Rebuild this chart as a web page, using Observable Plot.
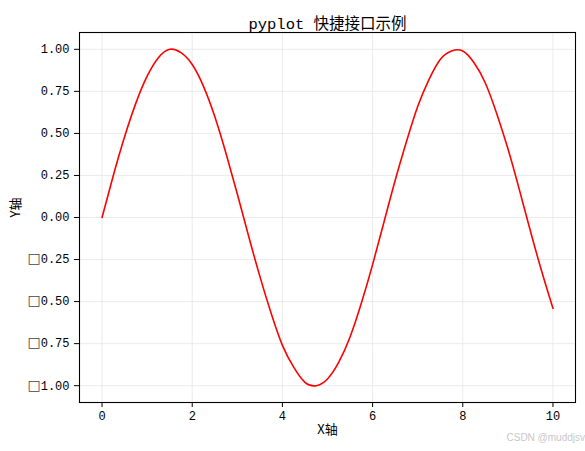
<!DOCTYPE html>
<html>
<head>
<meta charset="utf-8">
<script src="https://cdn.jsdelivr.net/npm/d3@7"></script>
<script src="https://cdn.jsdelivr.net/npm/@observablehq/plot@0.6"></script>
<style>
  html, body { margin: 0; padding: 0; background: #fff; }
  #chart { position: relative; width: 585px; height: 451px; }
  #wm { position: absolute; right: 0; top: 432px; font: 10px "Liberation Sans", Arial, sans-serif; color: #c8c8c8; white-space: nowrap; }
</style>
</head>
<body>
<div id="chart"><div id="wm">CSDN @muddjsv</div></div>
<script>
const title = "pyplot 快捷接口示例";
const xLabel = "X轴";
const yLabel = "Y轴";
const xValues = [0, 0.25, 0.5, 0.75, 1, 1.25, 1.5, 1.75, 2, 2.25, 2.5, 2.75, 3, 3.25, 3.5, 3.75, 4, 4.25, 4.5, 4.75, 5, 5.25, 5.5, 5.75, 6, 6.25, 6.5, 6.75, 7, 7.25, 7.5, 7.75, 8, 8.25, 8.5, 8.75, 9, 9.25, 9.5, 9.75, 10];
const yValues = [0.00, 0.25, 0.48, 0.68, 0.84, 0.95, 1.00, 0.98, 0.91, 0.78, 0.60, 0.38, 0.14, -0.11, -0.35, -0.57, -0.76, -0.89, -0.98, -1.00, -0.96, -0.86, -0.71, -0.51, -0.28, -0.03, 0.22, 0.45, 0.66, 0.82, 0.94, 0.99, 0.99, 0.92, 0.80, 0.62, 0.41, 0.17, -0.08, -0.32, -0.54];
const xTicks = [0, 2, 4, 6, 8, 10];
const yTicks = [-1, -0.75, -0.5, -0.25, 0, 0.25, 0.5, 0.75, 1];

const data = xValues.map((x, i) => ({x, y: yValues[i]}));
const font = '"Liberation Mono", "Noto Sans CJK SC", monospace';
const cjk = '"Noto Sans CJK SC", sans-serif';

const chart = Plot.plot({
  width: 585,
  height: 451,
  marginLeft: 79,
  marginRight: 10,
  marginTop: 32,
  marginBottom: 49,
  style: {fontFamily: font, fontSize: "12px", background: "#fff", color: "#000"},
  x: {domain: [-0.5, 10.5], ticks: xTicks},
  y: {domain: [-1.1, 1.1], ticks: yTicks},
  marks: [
    Plot.gridX(xTicks, {stroke: "#e6e6e6", strokeOpacity: 1, strokeWidth: 0.8}),
    Plot.gridY(yTicks, {stroke: "#e6e6e6", strokeOpacity: 1, strokeWidth: 0.8}),
    Plot.line(data, {x: "x", y: "y", stroke: "#ff0000", strokeWidth: 1.6, curve: "natural"}),
    Plot.frame({stroke: "#000", strokeWidth: 1.1}),
    Plot.axisX(xTicks, {tickSize: 5, tickPadding: 4, label: null, fontSize: 12, tickFormat: d => String(d)}),
    Plot.axisY(yTicks, {tickSize: 5, tickPadding: 5, label: null, fontSize: 12,
      tickFormat: d => d3.format(".2f")(d).replace(/[-\u2212]/, "□")}),
    Plot.text([title], {frameAnchor: "top", dy: -15, fontSize: 15.5, fontFamily: font}),
    Plot.text([xLabel], {frameAnchor: "bottom", dy: 31, fontSize: 13, fontFamily: cjk}),
    Plot.text([yLabel], {frameAnchor: "left", dx: -64, rotate: -90, fontSize: 13, fontFamily: cjk})
  ]
});
// enlarge the missing-glyph box in front of negative tick labels
d3.select(chart).selectAll("text").each(function() {
  const t = this.textContent;
  if (t.startsWith("□")) {
    const sel = d3.select(this);
    const rest = t.slice(1);
    sel.text(null);
    sel.append("tspan").attr("font-family", '"DejaVu Sans"').attr("font-size", 14).attr("fill", "#444").text("□");
    sel.append("tspan").text(rest);
  }
});
document.getElementById("chart").prepend(chart);
</script>
</body>
</html>
